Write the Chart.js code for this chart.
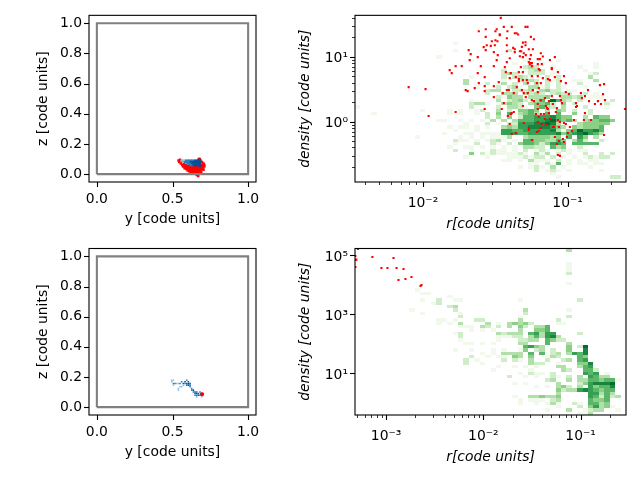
<!DOCTYPE html>
<html>
<head>
<meta charset="utf-8">
<script src="https://cdn.jsdelivr.net/npm/chart.js@4/dist/chart.umd.min.js"></script>
<style>
  html, body { margin: 0; padding: 0; background: #fff; width: 640px; height: 480px; overflow: hidden; }
  canvas { position: absolute; }
</style>
</head>
<body>
<canvas id="c1" width="280" height="240" style="left:0;top:0"></canvas>
<canvas id="c2" width="350" height="240" style="left:290px;top:0"></canvas>
<canvas id="c3" width="280" height="250" style="left:0;top:230px"></canvas>
<canvas id="c4" width="350" height="250" style="left:290px;top:230px"></canvas>
<script>
// box outline, same for both left panels
const boxY = [0, 1, 1, 0, 0];
const boxZ = [0, 0, 1, 1, 0];

// top left: projected particles
const topBlueY = [0.56,0.57,0.58,0.59,0.60,0.61,0.62,0.63,0.64,0.65,0.66,0.67,0.68,0.58,0.59,0.60,0.61,0.62,0.63,0.64,0.65,0.66,0.67,0.68,0.60,0.61,0.62,0.63,0.64,0.65,0.66,0.67,0.68,0.62,0.63,0.64,0.65,0.66,0.67,0.68];
const topBlueZ = [0.09,0.09,0.09,0.09,0.09,0.09,0.09,0.09,0.09,0.09,0.09,0.095,0.095,0.08,0.08,0.08,0.08,0.08,0.08,0.08,0.08,0.08,0.08,0.08,0.07,0.07,0.07,0.07,0.07,0.07,0.07,0.07,0.07,0.06,0.06,0.06,0.06,0.06,0.06,0.055];
const topBlueLevel = [1,1,1,2,2,2,2,2,2,3,3,3,3,2,2,2,2,3,3,3,3,3,3,3,2,2,2,3,3,3,3,3,3,2,2,3,3,3,3,3];
const topRedY = [0.54,0.545,0.55,0.555,0.56,0.565,0.57,0.575,0.58,0.585,0.59,0.595,0.60,0.605,0.61,0.615,0.62,0.625,0.63,0.635,0.64,0.64,0.645,0.65,0.655,0.66,0.66,0.665,0.67,0.67,0.675,0.675,0.68,0.68,0.68,0.68,0.685,0.685,0.69,0.69,0.695,0.695,0.70,0.70,0.705,0.71,0.71,0.705,0.60,0.62,0.655,0.675,
  0.585,0.595,0.605,0.615,0.625,0.635,0.645,0.655,0.665,0.675,0.61,0.62,0.63,0.64,0.65,0.66,0.67,0.68,0.69,0.64,0.65,0.66,0.67,0.68,0.59,0.61,0.63,0.65,0.70,0.69];
const topRedZ = [0.09,0.08,0.095,0.07,0.085,0.06,0.05,0.065,0.04,0.055,0.035,0.05,0.025,0.04,0.02,0.035,0.015,0.03,0.01,0.025,0.045,0.005,0.02,0.035,0.01,0.03,-0.005,0.045,0.015,-0.012,0.005,0.03,0.045,0.06,0.075,0.10,0.02,0.09,0.035,0.06,0.05,0.08,0.04,0.065,0.07,0.06,0.05,0.03,0.05,0.045,0.045,0.10,
  0.045,0.04,0.03,0.045,0.04,0.04,0.03,0.025,0.03,0.045,0.03,0.025,0.02,0.015,0.015,0.015,0.005,0.01,0.015,0.03,0.005,0.045,0.055,0.03,0.06,0.055,0.05,0.055,0.055,0.045];

// bottom left: projected particles
const botBlueY = [0.495,0.495,0.506,0.506,0.517,0.506,0.528,0.539,0.550,0.561,0.572,0.583,0.594,0.605,0.594,0.605,0.616,0.572,0.561,0.539,0.550,0.539,0.627,0.627,0.638,0.638,0.649,0.649,0.660,0.671,0.671,0.660,0.682,0.682,0.693,0.660,0.583,0.594,0.605,0.616,0.616,0.649,0.660];
const botBlueZ = [0.179,0.168,0.179,0.157,0.157,0.146,0.157,0.157,0.157,0.168,0.157,0.168,0.157,0.168,0.146,0.146,0.146,0.146,0.135,0.124,0.135,0.113,0.124,0.113,0.113,0.101,0.101,0.090,0.090,0.090,0.079,0.079,0.101,0.079,0.068,0.068,0.157,0.179,0.157,0.157,0.135,0.079,0.101];
const botBlueLevel = [1,1,1,2,2,1,1,1,2,2,3,3,3,3,2,3,2,1,1,1,1,1,2,2,3,2,3,3,3,3,3,2,2,2,1,1,2,2,3,3,2,2,2];
const botRedY = [0.69,0.70,0.695,0.695];
const botRedZ = [0.085,0.085,0.09,0.08];

// top right: log10 of r and density for the red particles
const topRedLogR = [-1.462,-1.441,-1.386,-1.291,-1.277,-1.566,-1.614,-1.490,-1.499,-1.416,-1.365,-1.353,-1.342,-1.469,-1.469,-1.566,-1.254,-1.233,-1.420,-1.524,-1.499,-1.485,-1.291,-1.309,-1.559,-1.531,-1.503,-1.580,-1.420,-1.376,-1.365,-1.316,-1.291,-1.240,-1.268,-1.566,-1.684,-1.510,-1.670,-1.420,-1.365,-1.330,-1.321,-1.303,-1.185,-1.483,-1.621,-1.330,-1.309,-1.289,-1.254,-1.171,-1.088,-1.400,-1.261,-1.206,-1.192,-1.677,-1.490,-1.122,-1.420,-1.268,-1.254,-1.247,-1.206,-1.178,-1.261,-1.774,-1.732,-1.600,-1.510,-1.434,-1.323,-1.247,-1.109,-1.109,-1.199,-1.192,-1.815,-1.801,-1.621,-1.427,-1.393,-1.337,-1.309,-1.067,-1.025,-1.400,-1.358,-1.337,-1.309,-1.282,-1.247,-1.206,-1.171,-1.136,-1.122,-1.088,-1.046,-1.012,-1.614,-1.573,-1.476,-1.337,-1.275,-1.212,-1.185,-2.099,-1.982,-1.642,-1.573,-1.510,-1.704,-1.691,-1.573,-1.420,-1.406,-1.351,-1.316,-1.303,-1.275,-1.240,-1.199,-1.206,-1.372,-1.448,-1.012,-0.991,-0.908,-0.859,-0.776,-0.748,-0.755,-1.510,-1.289,-1.247,-1.233,-1.185,-1.157,-1.129,-1.109,-1.053,-1.046,-0.880,-0.901,-0.741,-0.790,-0.769,-0.811,-0.852,-0.942,-0.935,-1.039,-1.441,-1.309,-1.206,-1.150,-1.143,-1.102,-1.074,-1.573,-1.455,-1.774,-1.961,-1.413,-1.393,-1.386,-1.372,-1.206,-1.136,-1.081,-0.942,-0.880,-0.603,-1.219,-1.185,-1.164,-1.129,-1.199,-1.157,-1.122,-1.067,-0.956,-0.887,-0.838,-1.053,-1.025,-1.012,-1.303,-1.400,-1.206,-1.178,-1.150,-1.102,-1.095,-1.060,-0.984,-0.970,-1.268,-1.268,-1.185,-1.199,-1.212,-1.358,-1.386,-0.998,-1.005,-1.088,-1.032,-1.247,-1.060,-1.074,-1.025,-0.748,-1.067,-1.053];
const topRedLogD = [1.600,1.462,1.462,1.462,1.462,1.426,1.395,1.426,1.395,1.395,1.364,1.364,1.344,1.349,1.333,1.308,1.308,1.272,1.287,1.241,1.256,1.241,1.226,1.220,1.179,1.169,1.179,1.149,1.179,1.138,1.118,1.154,1.179,1.118,1.118,1.103,1.103,1.072,1.041,1.087,1.072,1.087,1.087,1.056,1.056,1.026,0.995,1.010,0.995,1.026,1.026,1.005,0.995,0.979,0.964,0.964,0.964,0.949,0.949,0.949,0.918,0.918,0.903,0.903,0.887,0.887,0.887,0.856,0.856,0.856,0.856,0.841,0.841,0.856,0.826,0.810,0.810,0.795,0.795,0.749,0.749,0.764,0.749,0.764,0.764,0.764,0.703,0.672,0.687,0.656,0.641,0.641,0.703,0.703,0.672,0.656,0.641,0.687,0.626,0.595,0.595,0.687,0.610,0.626,0.595,0.595,0.595,0.533,0.503,0.518,0.549,0.549,0.487,0.472,0.472,0.487,0.487,0.533,0.487,0.441,0.441,0.487,0.518,0.456,0.441,0.441,0.456,0.426,0.441,0.487,0.564,0.579,0.426,0.379,0.379,0.333,0.318,0.333,0.364,0.318,0.395,0.395,0.333,0.395,0.364,0.333,0.318,0.272,0.272,0.318,0.287,0.241,0.287,0.287,0.241,0.272,0.241,0.210,0.272,0.210,0.195,0.195,0.149,0.087,0.087,0.118,0.133,0.149,0.195,0.195,0.149,0.226,0.133,0.195,0.118,0.118,0.118,0.133,0.072,0.041,0.041,0.026,0.026,0.026,0.026,-0.005,-0.021,-0.036,-0.021,-0.036,-0.005,-0.036,-0.051,-0.082,-0.082,-0.082,-0.082,-0.144,-0.097,-0.128,-0.097,-0.144,-0.159,-0.174,-0.190,-0.174,-0.236,-0.236,-0.267,-0.282,-0.297,-0.344,-0.313,-0.205,-0.513,-0.528];

// bottom right: log10 of r and density for the red particles
const botRedLogR = [-3.289,-3.316,-3.306,-3.316,-3.316,-3.141,-2.924,-2.893,-3.048,-2.986,-2.821,-2.873,-2.801,-2.739,-2.646,-2.636];
const botRedLogD = [5.215,4.977,4.853,4.842,4.605,4.944,4.910,4.571,4.571,4.571,4.537,4.164,4.198,4.266,3.960,3.994];

// 2D histograms, [row from top, first column, shade per cell, '.' = empty]
const topHist = [
  // faint background cells
  [22,31,"1.1.1.1.11"],[24,39,"1.1.1.1"],[26,24,"1.1"],[28,17,"1.1..1"],[29,17,"1.1..1.1"],[30,31,"1"],[31,15,"11..1.1.1"],
  [33,17,"1.11.1.1"],[35,21,"1.1.11"],[36,19,"1.1.1.1.1"],[37,19,"11.1.1"],[37,27,"1.1"],[38,26,"1.1.1"],[39,20,"11.1.1.1.1.1"],
  [40,26,"11.1.1.1.1.1.1.1"],[41,26,"1111.1.111.1"],[42,29,"1111.1.1.1.1.1.1"],[43,27,"11.1.1.11.1.1.1.1"],[44,33,"1.1.1.1.11.1"],[45,30,"1.1.1.1.1"],[46,37,"1.1"],
  // counted cells
  [8,18,"1"],[10,18,"1"],[10,28,"2"],[12,15,"1"],[13,21,"1"],[13,31,"1"],[13,37,"1"],
  [14,29,"1"],[14,34,"1"],[14,44,"1"],[15,31,"232"],[15,36,"1"],[15,41,"1"],[15,44,"1"],
  [16,27,"2"],[16,31,"1232"],[16,37,"1"],[16,42,"1"],[17,27,"2321"],[17,32,"222"],[17,36,"1"],[17,43,"12"],
  [18,21,"1"],[18,27,"2.2321"],[18,35,"2"],[18,37,"2"],[18,43,"3"],
  [19,20,"3"],[19,27,"1"],[19,30,"2232"],[19,35,"212"],[19,40,"11"],[19,44,"3"],
  [20,20,"3"],[20,24,"2"],[20,27,"3.2"],[20,31,"3.3"],[20,35,"2.2"],[20,41,"2"],
  [21,22,"1"],[21,26,"2"],[21,28,"231"],[21,32,"3312"],[21,37,"21"],[21,42,"1"],
  [22,20,"1"],[22,24,"233"],[22,29,"2223"],[22,34,"3422"],[22,40,"1"],
  [23,24,"2"],[23,27,"333"],[23,31,"3232"],[23,36,"2322"],[23,42,"2"],[23,44,"1"],
  [24,26,"2"],[24,27,"1433"],[24,32,"3334"],[24,38,"3323"],[24,44,"1"],
  [25,21,"1"],[25,26,"3"],[25,28,"2342"],[25,33,"3"],[25,34,"5"],[25,36,"85"],[25,38,"32"],[25,41,"2"],[25,45,"1"],[25,47,"2"],
  [26,21,"2"],[26,22,"33"],[26,27,"3432"],[26,32,"34452"],[26,38,"4"],[26,40,"2"],[26,46,"2"],
  [27,0,"1"],[27,21,"2"],[27,26,"2"],[27,28,"3321"],[27,33,"4532"],[27,38,"3"],[27,42,"2"],[27,46,"1"],
  [28,12,"1"],[28,23,"2"],[28,26,"3"],[28,28,"2"],[28,30,"4454"],[28,35,"3"],[28,37,"43"],[28,40,"2"],[28,43,"2"],
  [29,3,"1"],[29,24,"2"],[29,26,"4"],[29,28,"5"],[29,30,"3453"],[29,35,"5"],[29,37,"5"],[29,40,"4"],[29,43,"2"],
  [30,24,"2"],[30,26,"3"],[30,28,"4"],[30,30,"255666754"],[30,39,"4"],[30,42,"3"],[30,44,"544"],
  [31,21,"1"],[31,23,"1"],[31,25,"3"],[31,27,"3"],[31,29,"3"],[31,30,"5556678545"],[31,40,"3"],[31,42,"344554"],
  [32,20,"1"],[32,24,"2"],[32,26,"1"],[32,28,"22"],[32,30,"6667787"],[32,37,"3"],[32,41,"344444"],
  [33,19,"1"],[33,22,"1"],[33,27,"3"],[33,28,"4"],[33,29,"3"],[33,30,"6677776"],[33,37,"4"],[33,38,"3"],[33,40,"4"],[33,41,"34445"],
  [34,18,"1"],[34,22,"1"],[34,27,"665566"],[34,33,"6667"],[34,37,"3"],[34,39,"4"],[34,40,"586675"],
  [35,16,"1"],[35,20,"1"],[35,24,"1"],[35,27,"666556"],[35,33,"66667"],[35,38,"4"],[35,39,"567865"],[35,45,"3"],
  [36,11,"1"],[36,26,"1"],[36,28,"3"],[36,31,"344443"],[36,37,"4"],[36,39,"5"],[36,41,"6"],[36,42,"4"],[36,44,"3"],
  [37,18,"2"],[37,25,"2"],[37,26,"3"],[37,31,"554433"],[37,37,"5"],[37,38,"4"],[37,40,"3"],[37,41,"52"],[37,45,"2"],
  [38,18,"1"],[38,22,"2"],[38,25,"2"],[38,28,"2"],[38,30,"4"],[38,31,"55424"],[38,36,"665"],[38,40,"5"],[38,41,"5555"],
  [39,17,"1"],[39,31,"3"],[39,32,"3"],[39,33,"22"],[39,36,"5"],[39,37,"3"],[39,38,"4"],[39,41,"2"],
  [40,18,"2"],[40,21,"1"],[40,25,"2"],[40,29,"1"],[40,31,"2"],[40,34,"2"],[40,38,"2"],[40,42,"1"],
  [41,21,"4"],[41,23,"2"],[41,25,"2"],[41,30,"2"],[41,33,"3"],[41,35,"3"],[41,37,"2"],[41,39,"1"],[41,42,"2"],[41,45,"2"],[41,47,"2"],
  [42,20,"1"],[42,24,"1"],[42,28,"1"],[42,31,"2"],[42,33,"2"],[42,34,"2"],[42,36,"2"],[42,43,"2"],[42,45,"22"],
  [43,32,"3"],[43,33,"1"],[43,35,"1"],[43,37,"2"],[43,39,"1"],[43,44,"1"],
  [44,32,"1"],[44,35,"2"],[44,36,"1"],[44,37,"5"],[44,45,"1"],[45,33,"2"],[45,36,"3"],[45,38,"1"],[45,43,"1"],
  [46,33,"2"],[46,35,"1"],[46,36,"2"],[46,45,"1"],[47,36,"1"],[48,37,"1"],[48,47,"22"]
];
const botHist = [
  // faint background cells
  [24,21,"1.1.1"],[28,20,"11.1.1"],[30,25,"1.1"],[33,22,"1"],[35,29,"1.1.1"],[37,30,"1.1.1"],[38,33,"1"],[40,29,"1.1"],[41,33,"1.1"],[44,36,"1"],[46,33,"1.1"],
  // counted cells
  [0,39,"3"],[4,39,"1"],[5,39,"1"],[6,39,"1"],[7,39,"2"],[10,39,"1"],
  [12,11,"1"],[13,12,"11"],[14,17,"1"],[15,12,"1"],[15,15,"2"],[15,18,"1"],[15,19,"1"],[15,30,"1"],[15,41,"2"],
  [16,14,"1"],[16,15,"2"],[17,17,"23"],[18,18,"2"],[18,39,"1"],[18,10,"1"],[19,12,"1"],[19,19,"1"],[18,31,"3"],[19,31,"2"],
  [20,19,"2"],[20,30,"1"],[20,39,"2"],[21,15,"11"],[21,18,"1"],[21,22,"22"],[21,30,"3"],[21,37,"2"],
  [22,15,"1"],[22,17,"1"],[22,19,"3"],[22,24,"3"],[22,26,"1"],[22,28,"3"],[22,29,"4"],[22,30,"3"],[22,31,"4"],[22,32,"2"],[22,37,"11"],
  [23,19,"111"],[23,23,"32"],[23,26,"2"],[23,28,"3"],[23,30,"4"],[23,31,"2"],[23,33,"33"],[23,35,"5"],
  [24,30,"3"],[24,33,"44"],[24,35,"5"],[25,18,"12"],[25,26,"3"],[25,27,"2333"],[25,32,"5"],[25,33,"63"],[25,35,"66"],[25,41,"2"],
  [26,19,"2"],[26,26,"1112"],[26,30,"2"],[26,32,"3"],[26,33,"5"],[26,34,"3"],[26,35,"6"],[26,36,"73"],
  [27,19,"1"],[27,26,"1"],[27,30,"22"],[27,32,"33"],[27,35,"5"],[27,36,"4"],[27,37,"22"],
  [28,30,"33"],[28,35,"5"],[28,39,"3"],[29,31,"5"],[29,32,"6"],[29,33,"43"],[29,39,"4"],[29,41,"2"],[29,42,"8"],
  [30,18,"1"],[30,21,"1"],[30,30,"1"],[30,31,"4"],[30,33,"2"],[30,34,"3"],[30,36,"2"],[30,39,"4"],[30,42,"7"],
  [31,23,"1"],[31,25,"1"],[31,27,"3333"],[31,32,"5"],[31,34,"5"],[31,36,"2"],[31,37,"3"],[31,39,"3"],[31,40,"657"],
  [32,21,"2"],[32,24,"1"],[32,26,"11"],[32,29,"43"],[32,32,"4"],[32,35,"1"],[32,36,"32"],[32,41,"54"],
  [33,20,"2"],[33,27,"2"],[33,29,"21"],[33,32,"3"],[33,35,"2"],[33,38,"23"],[33,41,"56"],
  [34,20,"2"],[34,23,"1"],[34,32,"322"],[34,37,"1"],[34,41,"447"],
  [35,26,"1"],[35,37,"33"],[35,41,"3"],[35,42,"56"],[36,25,"1"],[36,32,"1"],[36,38,"32"],[36,42,"552"],
  [37,32,"21"],[37,36,"2"],[37,42,"656"],[37,46,"1"],[38,28,"2"],[38,31,"1"],[38,36,"21"],[38,39,"2"],[38,41,"3"],[38,43,"65"],[38,45,"33"],
  [39,35,"23"],[39,39,"3"],[39,41,"33"],[39,43,"55455"],[39,48,"1"],[40,37,"3"],[40,41,"24"],[40,43,"677"],[40,46,"78"],
  [41,37,"342"],[41,41,"3"],[41,43,"645"],[41,46,"57"],[42,37,"4233"],[42,41,"67"],[42,43,"65455"],
  [43,37,"3"],[43,43,"66353"],[44,29,"1"],[44,32,"33433"],[44,37,"4"],[44,43,"652523"],
  [45,30,"1"],[45,32,"111"],[45,36,"23"],[45,43,"5445"],[46,30,"1"],[46,36,"31"],[46,40,"21"],[46,43,"5534"],
  [47,37,"1"],[47,41,"2"],[47,43,"4634"],[47,47,"1"],[48,35,"1"],[48,39,"3"],[48,42,"1"],[48,43,"233"],[48,48,"1"],
  [49,41,"11"],[49,43,"3"]
];

const greens = ['#ffffff','#f0f9ec','#d0edc9','#b2e0ab','#8ccf87','#5ab769','#35a054','#1b843f','#006d2c','#00441b'];
const blues = ['#ffffff','#8fc1de','#2b7bba','#0b4f96'];

function pow10(v) { return Math.pow(10, v); }
function expLabel(v) {
  const sup = {'-':'⁻','0':'⁰','1':'¹','2':'²','3':'³','4':'⁴','5':'⁵'};
  return '10' + String(v).split('').map(ch => sup[ch]).join('');
}
function toPoints(xs, ys, extra) {
  return xs.map((x, i) => ({ x: x, y: ys[i], v: extra ? extra[i] : 0 }));
}
function logPoints(xs, ys) {
  return xs.map((x, i) => ({ x: pow10(x), y: pow10(ys[i]) }));
}

// turn the histogram rows into cells with their bin edges
function histCells(rows, xr, yr) {
  const dx = (xr[1] - xr[0]) / 50, dy = (yr[1] - yr[0]) / 50;
  const cells = [];
  rows.forEach(([row, col, shades]) => {
    shades.split('').forEach((s, k) => {
      if (s === '.') return;
      const c = col + k;
      cells.push({
        x: pow10(xr[0] + (c + 0.5) * dx), y: pow10(yr[1] - (row + 0.5) * dy),
        x0: pow10(xr[0] + c * dx), x1: pow10(xr[0] + (c + 1) * dx),
        y0: pow10(yr[1] - (row + 1) * dy), y1: pow10(yr[1] - row * dy),
        v: Number(s)
      });
    });
  });
  return cells;
}

// draws histogram cells, axes frame and tick marks
const panelPlugin = {
  id: 'panelPlugin',
  beforeDatasetsDraw(chart) {
    const ctx = chart.ctx, sx = chart.scales.x, sy = chart.scales.y;
    ctx.save();
    chart.data.datasets.forEach(ds => {
      if (!ds.isHist) return;
      ds.data.forEach(c => {
        const l = Math.round(sx.getPixelForValue(c.x0)), r = Math.round(sx.getPixelForValue(c.x1));
        const t = Math.round(sy.getPixelForValue(c.y1)), b = Math.round(sy.getPixelForValue(c.y0));
        ctx.fillStyle = greens[c.v];
        ctx.fillRect(l, t, r - l, b - t);
      });
    });
    ctx.restore();
  },
  afterDatasetsDraw(chart) {
    const ctx = chart.ctx, a = chart.chartArea, sx = chart.scales.x, sy = chart.scales.y;
    ctx.save();
    ctx.strokeStyle = '#000';
    sx.ticks.forEach(t => {
      const px = Math.round(sx.getPixelForValue(t.value)) + 0.5, len = t.label ? 5 : 3;
      ctx.lineWidth = t.label ? 1.1 : 0.8;
      ctx.beginPath(); ctx.moveTo(px, a.bottom); ctx.lineTo(px, a.bottom + len); ctx.stroke();
    });
    sy.ticks.forEach(t => {
      const py = Math.round(sy.getPixelForValue(t.value)) + 0.5, len = t.label ? 5 : 3;
      ctx.lineWidth = t.label ? 1.1 : 0.8;
      ctx.beginPath(); ctx.moveTo(a.left, py); ctx.lineTo(a.left - len, py); ctx.stroke();
    });
    ctx.lineWidth = 1.1;
    ctx.strokeRect(a.left, a.top, a.right - a.left, a.bottom - a.top);
    ctx.restore();
  }
};

function axis(o) {
  return {
    type: o.type, min: o.min, max: o.max,
    title: {
      display: true, text: o.title, color: '#000',
      font: { family: 'DejaVu Sans', size: 13.9, style: o.italic ? 'italic' : 'normal' },
      padding: o.titlePad
    },
    grid: { display: false, drawTicks: false },
    border: { display: false },
    ticks: {
      color: '#000', padding: o.tickPad, autoSkip: false, maxRotation: 0, minRotation: 0,
      labelOffset: o.labelOffset || 0,
      font: { family: 'DejaVu Sans', size: 13.9 },
      callback: o.label
    },
    afterBuildTicks: s => { s.ticks = o.ticks.map(v => ({ value: v })); },
    afterFit: s => { if (o.width) s.width = o.width; if (o.height) s.height = o.height; }
  };
}

function makeChart(id, datasets, xAxis, yAxis, padding) {
  new Chart(document.getElementById(id), {
    type: 'scatter',
    data: { datasets: datasets },
    options: {
      responsive: false, animation: false, devicePixelRatio: 1,
      layout: { padding: padding },
      plugins: { legend: { display: false }, tooltip: { enabled: false } },
      scales: { x: axis(xAxis), y: axis(yAxis) }
    },
    plugins: [panelPlugin]
  });
}

function boxDatasets(blueY, blueZ, blueLevel, blueSize, redY, redZ) {
  return [
    { data: toPoints(boxY, boxZ), showLine: true, borderColor: '#808080', borderWidth: 2.1, pointRadius: 0 },
    { data: toPoints(blueY, blueZ, blueLevel), pointStyle: 'rect', pointRadius: blueSize, borderWidth: 0,
      backgroundColor: c => blues[c.raw ? c.raw.v : 1] },
    { data: toPoints(redY, redZ), pointStyle: 'rect', pointRadius: 1.8, borderWidth: 0, backgroundColor: '#ff0000' }
  ];
}

function leftPanel(id, blueY, blueZ, blueLevel, blueSize, redY, redZ, top, xHeight, titleBottom) {
  makeChart(id, boxDatasets(blueY, blueZ, blueLevel, blueSize, redY, redZ),
    { type: 'linear', min: -0.052, max: 1.052, title: 'y [code units]', ticks: [0, 0.5, 1],
      label: v => v.toFixed(1), height: xHeight, tickPad: 9, titlePad: { top: 2, bottom: titleBottom } },
    { type: 'linear', min: -0.052, max: 1.052, title: 'z [code units]', ticks: [0, 0.2, 0.4, 0.6, 0.8, 1],
      label: v => v.toFixed(1), width: 89, tickPad: 7, titlePad: { top: 35, bottom: 4 } },
    { top: top, right: 24 });
}

const minorMultiples = [2, 3, 4, 5, 6, 7, 8, 9];
function logTicks(first, last, withMinor) {
  const out = [];
  for (let e = first; e <= last; e++) {
    out.push(pow10(e));
    if (withMinor) minorMultiples.forEach(m => out.push(m * pow10(e)));
  }
  return out;
}
function decadeLabel(labelled) {
  return v => {
    const e = Math.log10(v), r = Math.round(e);
    return Math.abs(e - r) < 1e-6 && labelled.includes(r) ? expLabel(r) : '';
  };
}

function rightPanel(id, rows, redR, redD, xr, yr, xLabelled, yLabelled, xTicks, yTicks, top, xHeight, titleBottom) {
  const datasets = [
    { isHist: true, data: histCells(rows, xr, yr), pointRadius: 0 },
    { data: logPoints(redR, redD), pointStyle: 'rect', pointRadius: 1.5, borderWidth: 0, backgroundColor: '#ff0000' }
  ];
  makeChart(id, datasets,
    { type: 'logarithmic', min: pow10(xr[0]), max: pow10(xr[1]), title: 'r[code units]', italic: true, ticks: xTicks,
      label: decadeLabel(xLabelled), height: xHeight, tickPad: 13, titlePad: { top: 2, bottom: titleBottom } },
    { type: 'logarithmic', min: pow10(yr[0]), max: pow10(yr[1]), title: 'density [code units]', italic: true, ticks: yTicks,
      label: decadeLabel(yLabelled), width: 65, tickPad: 7, labelOffset: 2, titlePad: { top: 7, bottom: 4 } },
    { top: top, right: 14 });
}

leftPanel('c1', topBlueY, topBlueZ, topBlueLevel, 1.6, topRedY, topRedZ, 15, 58, 12);
leftPanel('c3', botBlueY, botBlueZ, botBlueLevel, 1.1, botRedY, botRedZ, 18.5, 65, 19);

const topXRange = [-2.47, -0.596], topYRange = [-0.93, 1.64];
const botXRange = [-3.32, -0.533], botYRange = [-0.41, 5.23];
rightPanel('c2', topHist, topRedLogR, topRedLogD, topXRange, topYRange, [-2, -1], [0, 1],
  logTicks(-3, -1, true).filter(v => v >= pow10(topXRange[0]) && v <= pow10(topXRange[1])),
  logTicks(-1, 1, true).filter(v => v >= pow10(topYRange[0]) && v <= pow10(topYRange[1])),
  15, 58, 7);
rightPanel('c4', botHist, botRedLogR, botRedLogD, botXRange, botYRange, [-3, -2, -1], [1, 3, 5],
  logTicks(-4, -1, true).filter(v => v >= pow10(botXRange[0]) && v <= pow10(botXRange[1])),
  logTicks(1, 5, false).filter((v, i) => i % 2 === 0),
  18.5, 65, 14);
</script>
</body>
</html>
